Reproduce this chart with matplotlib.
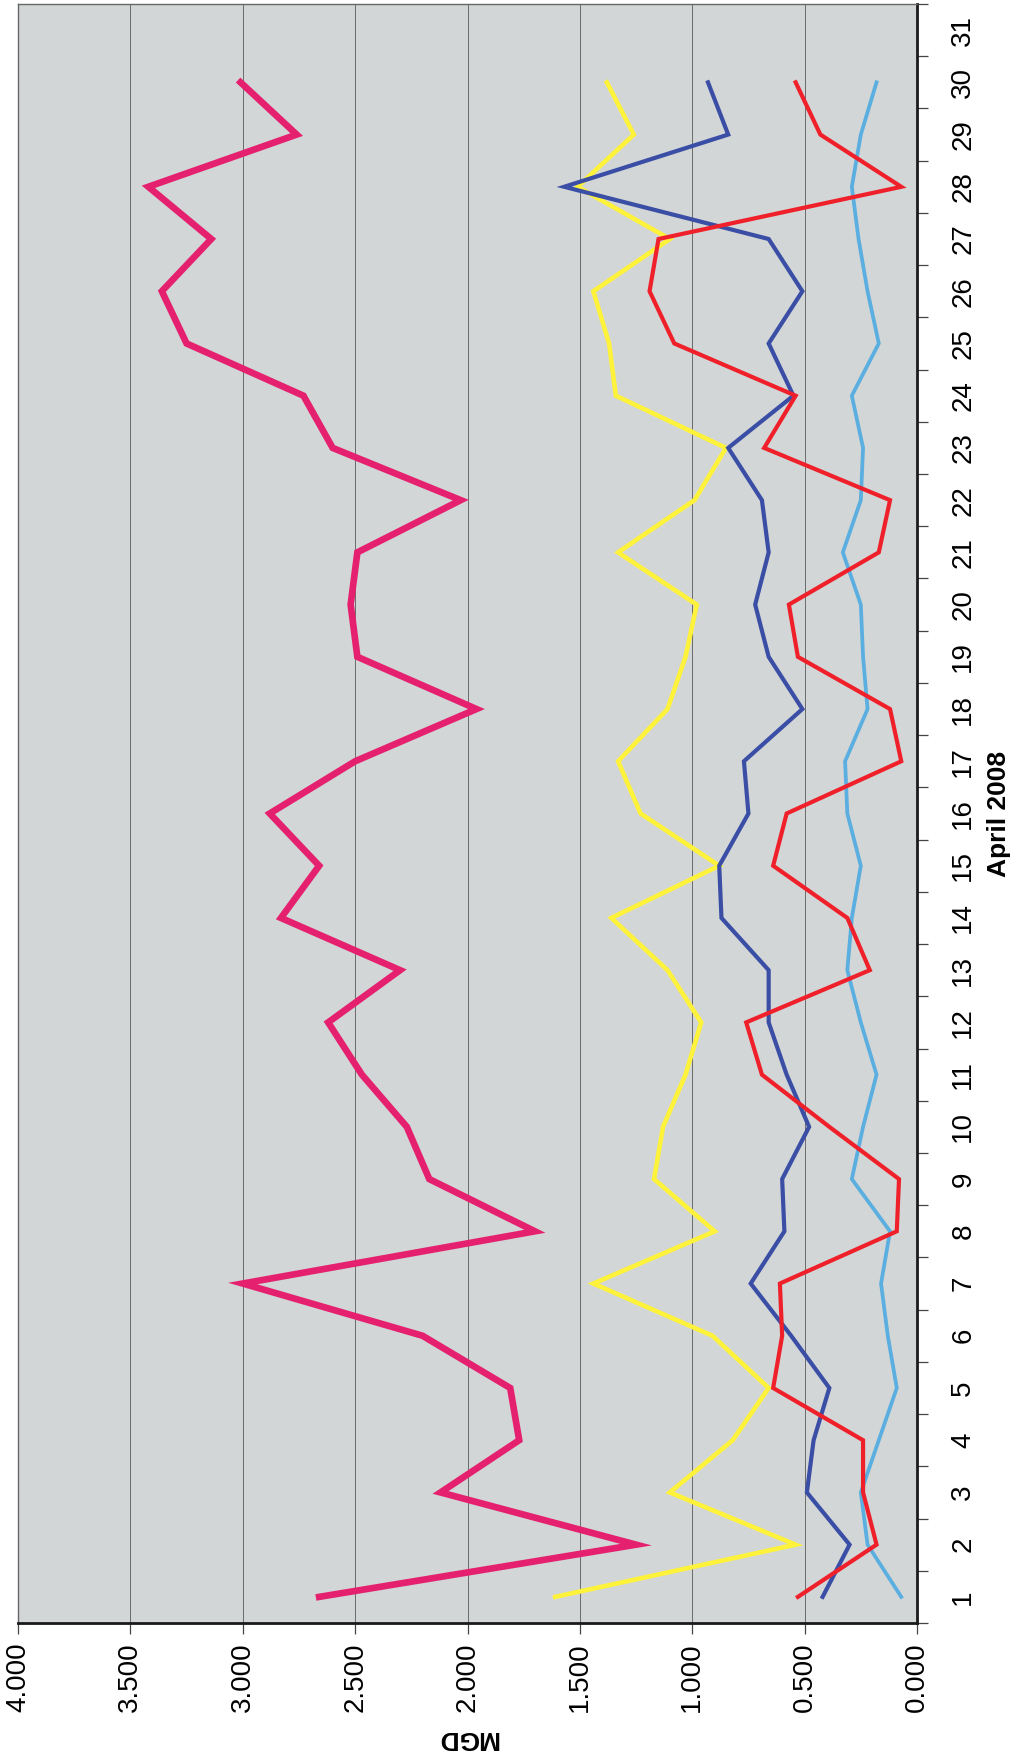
#!/usr/bin/env python3
"""Daily flow (MGD) for April 2008, drawn in a rotated page layout."""

import matplotlib

matplotlib.use("Agg")
import matplotlib.pyplot as plt
import numpy as np
from matplotlib.ticker import FixedLocator

days = list(range(1, 31))
day_ticks = list(range(1, 32))
mgd_ticks = [0.0, 0.5, 1.0, 1.5, 2.0, 2.5, 3.0, 3.5, 4.0]

flow_magenta = [2.66, 1.25, 2.12, 1.77, 1.81, 2.20, 3.00, 1.70, 2.17, 2.27,
                2.47, 2.62, 2.30, 2.83, 2.66, 2.88, 2.50, 1.96, 2.49, 2.52,
                2.49, 2.03, 2.60, 2.73, 3.25, 3.36, 3.14, 3.42, 2.76, 3.01]
flow_yellow = [1.61, 0.54, 1.10, 0.82, 0.66, 0.91, 1.44, 0.90, 1.17, 1.13,
               1.03, 0.96, 1.11, 1.36, 0.88, 1.23, 1.33, 1.11, 1.03, 0.98,
               1.33, 0.99, 0.85, 1.34, 1.37, 1.44, 1.10, 1.51, 1.26, 1.38]
flow_navy = [0.42, 0.30, 0.49, 0.46, 0.39, 0.56, 0.74, 0.59, 0.60, 0.48,
             0.58, 0.66, 0.66, 0.87, 0.88, 0.75, 0.77, 0.51, 0.66, 0.72,
             0.66, 0.69, 0.84, 0.55, 0.66, 0.51, 0.66, 1.57, 0.84, 0.93]
flow_red = [0.53, 0.18, 0.24, 0.24, 0.64, 0.60, 0.61, 0.09, 0.08, 0.39,
            0.69, 0.76, 0.21, 0.31, 0.64, 0.58, 0.07, 0.12, 0.53, 0.57,
            0.17, 0.12, 0.68, 0.54, 1.08, 1.19, 1.15, 0.07, 0.43, 0.54]
flow_skyblue = [0.07, 0.22, 0.25, 0.17, 0.09, 0.13, 0.16, 0.12, 0.29, 0.24,
                0.18, 0.25, 0.31, 0.29, 0.25, 0.31, 0.32, 0.22, 0.24, 0.25,
                0.33, 0.25, 0.24, 0.29, 0.17, 0.22, 0.26, 0.29, 0.25, 0.18]

W, H = 1013, 1760
fig = plt.figure(figsize=(W / 100, H / 100), dpi=100)
fig.patch.set_facecolor("white")

left, right, top, bottom = 18, 917, 4, 1623
ax = fig.add_axes([left / W, 1 - bottom / H, (right - left) / W, (bottom - top) / H])
ax.set_facecolor("#d2d6d6")

# value axis runs right-to-left along the bottom, days run bottom-to-top
ax.set_xlim(4.0, 0.0)
ax.set_ylim(0.5, 31.5)

ax.xaxis.grid(True, color="#6a6a6a", linewidth=0.7)
ax.set_axisbelow(True)

series = [
    (flow_skyblue, "#5aaee0", 2.7),
    (flow_yellow, "#fff23a", 3.3),
    (flow_navy, "#3a4ea6", 3.0),
    (flow_red, "#f0202a", 3.0),
    (flow_magenta, "#e5216f", 4.8),
]
for values, color, lw in series:
    ax.plot(np.asarray(values), days, color=color, linewidth=lw,
            solid_joinstyle="miter", zorder=3)

ax.set_xticks(mgd_ticks)
ax.set_xticklabels([f"{v:.3f}" for v in mgd_ticks], rotation=90,
                   fontsize=20, family=["Liberation Sans", "DejaVu Sans"])
ax.tick_params(axis="x", direction="out", length=8, width=0.9, color="#444444", pad=6)

ax.yaxis.tick_right()
ax.set_yticks(day_ticks)
ax.set_yticklabels([str(d) for d in day_ticks], rotation=90, va="center",
                   fontsize=20, family=["Liberation Sans Narrow", "Liberation Sans", "DejaVu Sans"])
ax.yaxis.set_minor_locator(FixedLocator(np.arange(0.5, 32.0, 1.0)))
ax.tick_params(axis="y", which="major", length=0, pad=24)
ax.tick_params(axis="y", which="minor", direction="out", length=8, width=0.9, color="#444444")

ax.set_xlabel("MGD", rotation=180, fontsize=19, fontweight="bold",
              family=["Liberation Sans", "DejaVu Sans"], labelpad=10)
ax.yaxis.set_label_position("right")
ax.set_ylabel("April 2008", rotation=90, fontsize=19, fontweight="bold",
              family=["Liberation Sans Narrow", "Liberation Sans", "DejaVu Sans"], labelpad=8)

for side in ("left", "top"):
    ax.spines[side].set_color("#666666")
    ax.spines[side].set_linewidth(1.0)
for side in ("right", "bottom"):
    ax.spines[side].set_color("#1a1a1a")
    ax.spines[side].set_linewidth(2.0)

fig.savefig("out.png", dpi=100)
